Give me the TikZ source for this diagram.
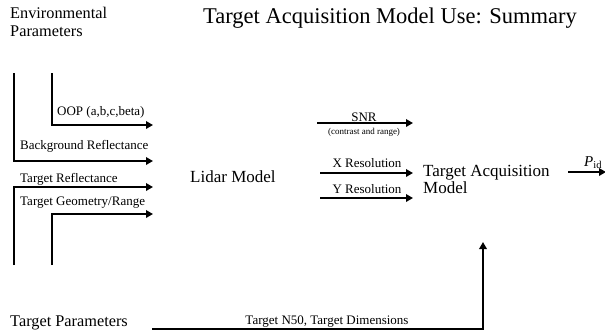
\documentclass[tikz,border=0pt]{standalone}
\usepackage{fontspec}
\setmainfont{Liberation Serif}
\usetikzlibrary{arrows.meta}
\begin{document}
\begin{tikzpicture}[x=1pt,y=-1pt,
  flow/.style={line width=2.7pt,-{Triangle[length=7pt,width=7.5pt]}},
  lbl/.style={inner sep=0pt,font=\fontsize{13}{14}\selectfont},
  tiny/.style={inner sep=0pt,font=\fontsize{9}{10}\selectfont},
  big/.style={inner sep=0pt,font=\fontsize{17}{18}\selectfont},
  head/.style={inner sep=0pt,font=\fontsize{16.3}{18}\selectfont}]
\useasboundingbox (0,0) rectangle (605,333);

% titles
\node[inner sep=0pt,anchor=base west,font=\fontsize{22.5}{24}\selectfont] (title) at (203,23) {Target Acquisition Model Use: Summary};
\node[head,anchor=base west] (env1) at (10,18) {Environmental};
\node[head,anchor=base west] (env2) at (10,36) {Parameters};
\node[head,anchor=base west] (tpar) at (10,326) {Target Parameters};

% models
\node[big,anchor=base west] (lidar) at (190,182) {Lidar Model};
\node[big,anchor=base west] (tam1) at (423,176) {Target Acquisition};
\node[big,anchor=base west] (tam2) at (423,193) {Model};

% environmental inputs
\coordinate (oopTop) at (52,73);
\coordinate (oopEnd) at (153,125);
\coordinate (bgTop) at (14,73);
\coordinate (bgEnd) at (153,161);
\coordinate (trBot) at (14,265);
\coordinate (trEnd) at (153,187);
\coordinate (tgBot) at (52,265);
\coordinate (tgEnd) at (153,214);
\draw[flow] (oopTop) |- (oopEnd);
\draw[flow] (bgTop) |- (bgEnd);
\draw[flow] (trBot) |- (trEnd);
\draw[flow] (tgBot) |- (tgEnd);
\node[lbl,anchor=base west] (oop) at (57,115) {OOP (a,b,c,beta)};
\node[lbl,anchor=base west] (bgr) at (20,149) {Background Reflectance};
\node[lbl,anchor=base west] (tr) at (20,182) {Target Reflectance};
\node[lbl,anchor=base west] (tg) at (20,205) {Target Geometry/Range};

% lidar outputs
\coordinate (snrA) at (317,123);
\coordinate (snrB) at (413,123);
\coordinate (xA) at (320,173);
\coordinate (xB) at (413,173);
\coordinate (yA) at (320,198);
\coordinate (yB) at (413,198);
\draw[flow] (snrA) -- (snrB);
\draw[flow] (xA) -- (xB);
\draw[flow] (yA) -- (yB);
\node[lbl,anchor=base] (snr) at (364,121) {SNR};
\node[tiny,anchor=base] (contr) at (364,134) {(contrast and range)};
\node[lbl,anchor=base] (xres) at (367,167) {X Resolution};
\node[lbl,anchor=base] (yres) at (367,193) {Y Resolution};

% output
\coordinate (pA) at (568,172);
\coordinate (pB) at (606,172);
\draw[flow] (pA) -- (pB);
\node[inner sep=0pt,anchor=base west,font=\fontsize{15}{16}\selectfont] (pid) at (584,166) {\textit{P}\raisebox{-0.4ex}{\fontsize{10.5}{12}\selectfont id}};

% target parameters
\coordinate (tpA) at (152,329);
\coordinate (tpB) at (483,242);
\draw[flow] (tpA) -| (tpB);
\node[lbl,anchor=base] (n50) at (327,324) {Target N50, Target Dimensions};
\end{tikzpicture}
\end{document}
